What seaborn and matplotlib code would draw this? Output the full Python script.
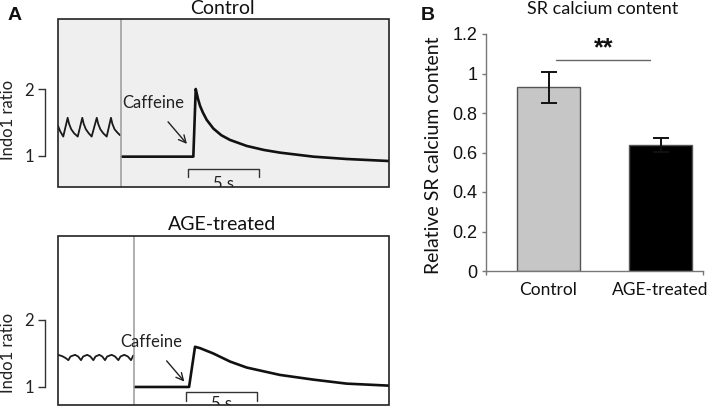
import numpy as np
import pandas as pd
import matplotlib
matplotlib.use("Agg")
import matplotlib.pyplot as plt
import seaborn as sns
from matplotlib.patches import Rectangle

sns.set_theme(style="white")
plt.rcParams["font.family"] = ["Lato", "DejaVu Sans"]

# ---------------- data ----------------
# Panel A, Control: paced transients (time s, Indo1 ratio)
ctrl_pace_t = [0.0, 0.15, 0.37, 0.68, 0.78, 0.93, 1.13, 1.39, 1.71, 1.81, 1.96, 2.16,
               2.37, 2.73, 2.83, 2.98, 3.18, 3.43, 3.73, 3.83, 3.98, 4.18, 4.37]
ctrl_pace_v = [1.45, 1.37, 1.29, 1.57, 1.48, 1.40, 1.34, 1.29, 1.57, 1.48, 1.40, 1.34,
               1.29, 1.57, 1.48, 1.40, 1.34, 1.29, 1.57, 1.48, 1.40, 1.35, 1.31]
# Panel A, Control: caffeine-induced transient
ctrl_caf_t = [4.5, 6.5, 8.5, 9.53, 9.70, 9.85, 10.0, 10.2, 10.47, 10.94, 11.5, 12.11,
              13.29, 14.5, 15.63, 17.98, 20.33, 23.3]
ctrl_caf_v = [0.99, 0.99, 0.99, 0.99, 2.0, 1.86, 1.75, 1.65, 1.54, 1.41, 1.31, 1.24,
              1.15, 1.09, 1.05, 0.99, 0.955, 0.925]
# Panel A, AGE-treated: paced transients
age_pace_t = [0.0, 0.3, 0.55, 0.73, 0.88, 1.2, 1.42, 1.62, 1.77, 2.06, 2.28, 2.49,
              2.64, 2.91, 3.12, 3.31, 3.46, 3.78, 4.02, 4.25, 4.40, 4.67, 4.92, 5.14, 5.3]
age_pace_v = [1.48, 1.46, 1.43, 1.40, 1.455, 1.48, 1.455, 1.40, 1.455, 1.48, 1.455, 1.40,
              1.455, 1.48, 1.455, 1.40, 1.455, 1.48, 1.455, 1.40, 1.455, 1.48, 1.455, 1.40, 1.47]
# Panel A, AGE-treated: caffeine-induced transient
age_caf_t = [5.42, 7.0, 8.5, 9.23, 9.44, 9.65, 10.0, 10.94, 12.11, 13.29, 15.63,
             17.98, 20.33, 23.31]
age_caf_v = [1.0, 1.0, 1.0, 1.0, 1.3, 1.6, 1.58, 1.50, 1.38, 1.29, 1.18,
             1.11, 1.05, 1.02]

# Panel B
categories = ["Control", "AGE-treated"]
sr_content = [0.93, 0.64]
sr_sem = [0.08, 0.035]
bar_colors = ["#c6c6c6", "#000000"]
yticks_b = [0, 0.2, 0.4, 0.6, 0.8, 1.0, 1.2]
yticklabels_b = ["0", "0.2", "0.4", "0.6", "0.8", "1", "1.2"]

# ---------------- figure ----------------
W, H = 709, 407
fig = plt.figure(figsize=(W / 100, H / 100), dpi=100)


def ax_px(l, t, r, b):
    return fig.add_axes([l / W, 1 - b / H, (r - l) / W, (b - t) / H])


def ftext(x, y, s, **kw):
    fig.text(x / W, 1 - y / H, s, **kw)


ARIAL = ["Liberation Sans", "DejaVu Sans"]

axA1 = ax_px(58, 19, 389, 187)
axA2 = ax_px(58, 236, 389, 405)
axB = ax_px(486, 34, 703, 271)


def trace_panel(ax, face, pace_t, pace_v, caf_t, caf_v, ylim, vline_t,
                caf_xy, arrow_from, arrow_to, bar_t, bar_y, tick_y, txt_y):
    ax.set_facecolor(face)
    ax.set_xlim(0, 23.31)
    ax.set_ylim(*ylim)
    sns.lineplot(x=pace_t, y=pace_v, ax=ax, color="#1a1a1a", lw=1.3, estimator=None)
    sns.lineplot(x=caf_t, y=caf_v, ax=ax, color="#111111", lw=1.9, estimator=None)
    ax.axvline(vline_t, color="#9a9a9a", lw=1.1)
    ax.add_patch(Rectangle((0, 0), 1, 1, transform=ax.transAxes, fill=False,
                           lw=1.2, ec="#222222", clip_on=False, zorder=5))
    for s in ["top", "right", "bottom"]:
        ax.spines[s].set_visible(False)
    ax.spines["left"].set_position(("outward", 9.4))
    ax.spines["left"].set_bounds(1, 2)
    ax.spines["left"].set_color("#333333")
    ax.spines["left"].set_linewidth(1.0)
    ax.set_xticks([])
    ax.set_yticks([1, 2])
    ax.set_yticklabels(["1", "2"])
    ax.tick_params(axis="y", left=True, length=5, width=1.0, color="#333333",
                   direction="out", labelsize=12, pad=3, labelcolor="#222222")
    ax.set_xlabel("")
    ax.set_ylabel("")
    ax.text(caf_xy[0], caf_xy[1], "Caffeine", fontsize=12, ha="left", va="center",
            color="#222222")
    ax.annotate("", xy=arrow_to, xytext=arrow_from,
                arrowprops=dict(arrowstyle="->", lw=1.0, color="#222222",
                                mutation_scale=13, shrinkA=0, shrinkB=0))
    ax.plot([bar_t[0], bar_t[0], bar_t[1], bar_t[1]],
            [tick_y, bar_y, bar_y, tick_y], color="#333333", lw=1.0)
    ax.text((bar_t[0] + bar_t[1]) / 2, txt_y, "5 s", fontsize=12, ha="center",
            va="top", color="#222222", clip_on=True)


trace_panel(axA1, "#efefef", ctrl_pace_t, ctrl_pace_v, ctrl_caf_t, ctrl_caf_v,
            (0.537, 3.045), 4.44, (4.5, 1.79), (7.75, 1.51), (9.08, 1.18),
            (9.15, 14.15), 0.806, 0.687, 0.70)
trace_panel(axA2, "white", age_pace_t, age_pace_v, age_caf_t, age_caf_v,
            (0.731, 3.254), 5.35, (4.4, 1.67), (7.65, 1.39), (8.9, 1.08),
            (8.99, 13.99), 0.925, 0.785, 0.87)

# y labels for the traces
ftext(8, 120, "Indo1 ratio", rotation=90, ha="center", va="center", fontsize=12,
      color="#222222")
ftext(8, 353, "Indo1 ratio", rotation=90, ha="center", va="center", fontsize=12,
      color="#222222")
ftext(222, 9, "Control", ha="center", va="center", fontsize=14, color="#111111")
ftext(222, 224, "AGE-treated", ha="center", va="center", fontsize=14, color="#111111")
ftext(15, 16, "A", ha="center", va="center", fontsize=14, fontweight="bold",
      family=ARIAL, color="#111111")
ftext(428, 16, "B", ha="center", va="center", fontsize=14, fontweight="bold",
      family=ARIAL, color="#111111")

# ---------------- panel B ----------------
dfb = pd.DataFrame({"group": categories, "value": sr_content})
sns.barplot(data=dfb, x="group", y="value", hue="group", palette=bar_colors,
            legend=False, ax=axB, width=0.5625, edgecolor="#555555", linewidth=1.0,
            errorbar=None, saturation=1)
axB.errorbar(x=[0, 1], y=sr_content, yerr=sr_sem, fmt="none", ecolor="#111111",
             elinewidth=1.4, capsize=6, capthick=1.4, zorder=4)
axB.set_ylim(0, 1.2)
axB.set_xlim(-0.558, 1.379)
axB.set_yticks(yticks_b)
axB.set_yticklabels(yticklabels_b, family=ARIAL, fontsize=13, color="#111111")
axB.set_xticks([0, 1])
axB.set_xticklabels(categories, fontsize=12.5, color="#111111")
axB.set_xticks([-0.558, 1.379], minor=True)
axB.tick_params(axis="y", left=True, length=3, width=1, color="#777777", pad=3)
axB.tick_params(axis="x", which="major", length=0, pad=8)
axB.tick_params(axis="x", which="minor", bottom=True, length=3, width=1, color="#777777")
for s in ["top", "right"]:
    axB.spines[s].set_visible(False)
for s in ["left", "bottom"]:
    axB.spines[s].set_color("#777777")
    axB.spines[s].set_linewidth(1.0)
axB.set_xlabel("")
axB.set_ylabel("Relative SR calcium content", fontsize=14, color="#111111")
axB.yaxis.set_label_coords(-0.205, 0.49)

# significance marker
sig_x = [0.067, 0.906]
sig_y = [1.07, 1.07]
axB.plot(sig_x, sig_y, color="#666666", lw=1.0)
axB.text(0.49, 1.09, "**", ha="center", va="baseline", fontsize=18,
         fontweight="bold", family=ARIAL, color="#111111")

ftext(603, 9, "SR calcium content", ha="center", va="center", fontsize=13,
      color="#111111")

fig.savefig("out.png", dpi=100)
